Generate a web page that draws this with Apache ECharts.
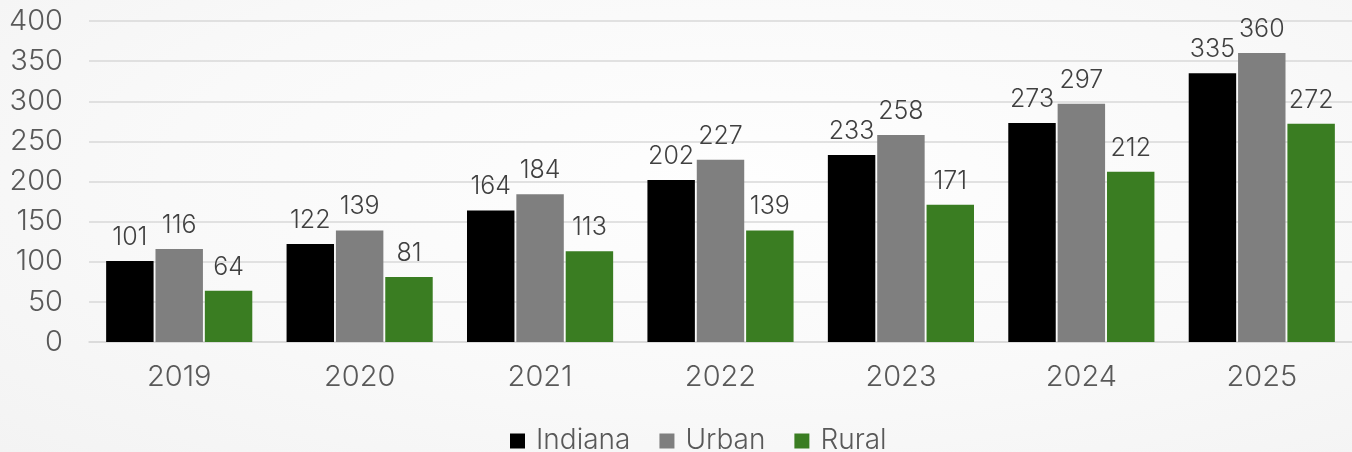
<!DOCTYPE html>
<html>
<head>
<meta charset="utf-8">
<script src="https://cdn.jsdelivr.net/npm/echarts@6/dist/echarts.min.js"></script>
<style>
  html, body { margin: 0; padding: 0; }
  body {
    width: 1352px; height: 452px; overflow: hidden;
    background: radial-gradient(ellipse at 55% 40%, #fefefe 0%, #f9f9f9 55%, #f3f3f3 100%);
  }
  #chart { width: 1352px; height: 452px; }
</style>
</head>
<body>
<div id="chart"></div>
<script>
// Years shown along the horizontal axis
const years = ['2019', '2020', '2021', '2022', '2023', '2024', '2025'];
// Values per region
const indiana = [101, 122, 164, 202, 233, 273, 335];
const urban   = [116, 139, 184, 227, 258, 297, 360];
const rural   = [64, 81, 113, 139, 171, 212, 272];
// Vertical axis range
const yMin = 0, yMax = 400, yStep = 50;

const FONT = 'Inter, "Liberation Sans", Arial, sans-serif';
const WEIGHT = 300;

function barSeries(name, data, color) {
  return {
    name: name,
    type: 'bar',
    data: data,
    barGap: '4%',
    barCategoryGap: '19%',
    itemStyle: { color: color },
    label: {
      show: true,
      position: 'top',
      distance: 11,
      color: '#404040',
      fontFamily: FONT,
      fontWeight: WEIGHT,
      fontSize: 25
    },
    emphasis: { disabled: true }
  };
}

const chart = echarts.init(document.getElementById('chart'), null, { renderer: 'canvas' });
chart.setOption({
  backgroundColor: 'transparent',
  animation: false,
  grid: { left: 89, right: 0, top: 21, bottom: 110, containLabel: false },
  legend: {
    top: 427,
    left: 510,
    padding: 0,
    itemWidth: 15,
    itemHeight: 15,
    itemGap: 29,
    icon: 'rect',
    textStyle: { color: '#595959', fontFamily: FONT, fontWeight: WEIGHT, fontSize: 28, padding: [0, 0, 0, 6] },
    data: ['Indiana', 'Urban', 'Rural']
  },
  xAxis: {
    type: 'category',
    data: years,
    axisLine: { show: true, lineStyle: { color: '#d9d9d9', width: 1.5 } },
    axisTick: { show: false },
    axisLabel: { color: '#595959', fontFamily: FONT, fontWeight: WEIGHT, fontSize: 29, margin: 21 }
  },
  yAxis: {
    type: 'value',
    min: yMin,
    max: yMax,
    interval: yStep,
    axisLine: { show: false },
    axisTick: { show: false },
    axisLabel: { color: '#595959', fontFamily: FONT, fontWeight: WEIGHT, fontSize: 29, margin: 26 },
    splitLine: { lineStyle: { color: '#d9d9d9', width: 1.5 } }
  },
  series: [
    barSeries('Indiana', indiana, '#000000'),
    barSeries('Urban', urban, '#7f7f7f'),
    barSeries('Rural', rural, '#3a7d22')
  ]
});
</script>
</body>
</html>
